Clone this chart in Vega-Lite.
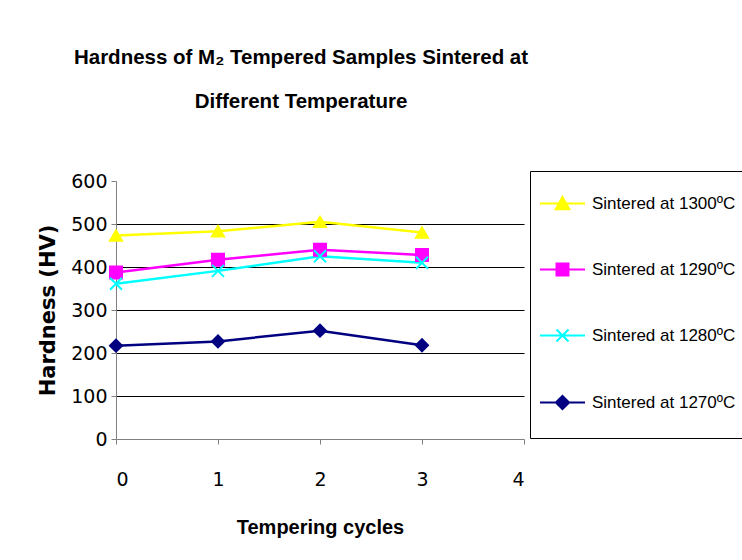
{
  "$schema": "https://vega.github.io/schema/vega-lite/v6.json",
  "width": 408,
  "height": 258,
  "autosize": {"type": "none"},
  "padding": {"left": 116, "top": 181, "right": 218, "bottom": 121},
  "background": "white",
  "config": {"font": "Liberation Sans", "view": {"stroke": null}},
  "title": {
    "text": ["Hardness of M₂ Tempered Samples Sintered at", "Different Temperature"],
    "fontSize": 20.5,
    "fontWeight": "bold",
    "lineHeight": 44,
    "anchor": "middle",
    "dx": -19,
    "offset": 58,
    "color": "black",
    "font": "Liberation Sans"
  },
  "data": {
    "values": [
      {"series": "Sintered at 1300ºC", "cycle": 0, "hardness": 473},
      {"series": "Sintered at 1300ºC", "cycle": 1, "hardness": 483},
      {"series": "Sintered at 1300ºC", "cycle": 2, "hardness": 505},
      {"series": "Sintered at 1300ºC", "cycle": 3, "hardness": 480},
      {"series": "Sintered at 1290ºC", "cycle": 0, "hardness": 387},
      {"series": "Sintered at 1290ºC", "cycle": 1, "hardness": 417},
      {"series": "Sintered at 1290ºC", "cycle": 2, "hardness": 440},
      {"series": "Sintered at 1290ºC", "cycle": 3, "hardness": 428},
      {"series": "Sintered at 1280ºC", "cycle": 0, "hardness": 361},
      {"series": "Sintered at 1280ºC", "cycle": 1, "hardness": 391},
      {"series": "Sintered at 1280ºC", "cycle": 2, "hardness": 425},
      {"series": "Sintered at 1280ºC", "cycle": 3, "hardness": 410},
      {"series": "Sintered at 1270ºC", "cycle": 0, "hardness": 217},
      {"series": "Sintered at 1270ºC", "cycle": 1, "hardness": 227},
      {"series": "Sintered at 1270ºC", "cycle": 2, "hardness": 252},
      {"series": "Sintered at 1270ºC", "cycle": 3, "hardness": 218}
    ]
  },
  "encoding": {
    "x": {
      "field": "cycle",
      "type": "quantitative",
      "scale": {"domain": [0, 4], "nice": false},
      "axis": {
        "title": "Tempering cycles",
        "values": [0, 1, 2, 3, 4],
        "format": "d",
        "grid": false,
        "domainColor": "#808080",
        "tickColor": "#808080",
        "tickSize": 5,
        "labelFont": "DejaVu Sans",
        "labelFontSize": 19,
        "labelColor": "black",
        "labelPadding": 26,
        "titleFont": "Liberation Sans",
        "titleFontSize": 20,
        "titleFontWeight": "bold",
        "titleColor": "black",
        "titlePadding": 28
      }
    },
    "y": {
      "field": "hardness",
      "type": "quantitative",
      "scale": {"domain": [0, 600], "nice": false},
      "axis": {
        "title": "Hardness (HV)",
        "values": [0, 100, 200, 300, 400, 500, 600],
        "grid": true,
        "gridColor": "black",
        "gridOpacity": {"condition": {"test": "datum.value === 600 || datum.value === 0", "value": 0}, "value": 1},
        "domainColor": "#808080",
        "tickColor": "#808080",
        "tickSize": 5,
        "labelFont": "DejaVu Sans",
        "labelFontSize": 19,
        "labelColor": "black",
        "labelPadding": 4,
        "titleFont": "DejaVu Sans",
        "titleFontSize": 21,
        "titleFontWeight": "bold",
        "titleColor": "black",
        "titlePadding": 12
      }
    }
  },
  "resolve": {"scale": {"shape": "independent", "fill": "independent", "stroke": "independent"}},
  "layer": [
    {
      "mark": {"type": "line", "strokeWidth": 2.5},
      "encoding": {
        "color": {
          "field": "series",
          "type": "nominal",
          "scale": {
            "domain": ["Sintered at 1300ºC", "Sintered at 1290ºC", "Sintered at 1280ºC", "Sintered at 1270ºC"],
            "range": ["#FFFF00", "#FF00FF", "#00FFFF", "#000080"]
          },
          "legend": null
        }
      }
    },
    {
      "mark": {"type": "point", "filled": true, "size": 144, "opacity": 1, "strokeWidth": 2},
      "encoding": {
        "shape": {
          "field": "series",
          "type": "nominal",
          "scale": {
            "domain": ["Sintered at 1300ºC", "Sintered at 1290ºC", "Sintered at 1280ºC", "Sintered at 1270ºC"],
            "range": ["triangle-up", "square", "M-1,-1L1,1M1,-1L-1,1", "diamond"]
          },
          "legend": null
        },
        "fill": {
          "field": "series",
          "type": "nominal",
          "scale": {
            "domain": ["Sintered at 1300ºC", "Sintered at 1290ºC", "Sintered at 1280ºC", "Sintered at 1270ºC"],
            "range": ["#FFFF00", "#FF00FF", "#00FFFF", "#000080"]
          },
          "legend": null
        },
        "stroke": {
          "field": "series",
          "type": "nominal",
          "scale": {
            "domain": ["Sintered at 1300ºC", "Sintered at 1290ºC", "Sintered at 1280ºC", "Sintered at 1270ºC"],
            "range": ["#FFFF00", "#FF00FF", "#00FFFF", "#000080"]
          },
          "legend": null
        }
      }
    },
    {
      "mark": {"type": "point", "filled": true, "size": 144, "opacity": 0, "strokeWidth": 2},
      "encoding": {
        "shape": {
          "field": "series",
          "type": "nominal",
          "scale": {
            "domain": ["Sintered at 1300ºC", "Sintered at 1290ºC", "Sintered at 1280ºC", "Sintered at 1270ºC"],
            "range": ["M-3.75,0H3.75M0,-1.1L1.15,0.95H-1.15Z", "M-3.75,0H3.75M-1,-1H1V1H-1Z", "M-3.75,0H3.75M-1,-1L1,1M1,-1L-1,1", "M-3.75,0H3.75M0,-1.1L1.1,0L0,1.1L-1.1,0Z"]
          },
          "legend": {"orient": "none", "legendX": 414, "legendY": -10, "title": null, "strokeColor": "black", "fillColor": "white", "padding": 24, "labelFont": "Liberation Sans", "labelFontSize": 17, "labelColor": "black", "labelLimit": 400, "symbolSize": 144, "rowPadding": 45, "labelOffset": 21, "symbolStrokeWidth": 2, "symbolOpacity": 1}
        },
        "fill": {
          "field": "series",
          "type": "nominal",
          "scale": {
            "domain": ["Sintered at 1300ºC", "Sintered at 1290ºC", "Sintered at 1280ºC", "Sintered at 1270ºC"],
            "range": ["#FFFF00", "#FF00FF", "#00FFFF", "#000080"]
          },
          "legend": {"orient": "none", "legendX": 414, "legendY": -10, "title": null, "strokeColor": "black", "fillColor": "white", "padding": 24, "labelFont": "Liberation Sans", "labelFontSize": 17, "labelColor": "black", "labelLimit": 400, "symbolSize": 144, "rowPadding": 45, "labelOffset": 21, "symbolStrokeWidth": 2, "symbolOpacity": 1}
        },
        "stroke": {
          "field": "series",
          "type": "nominal",
          "scale": {
            "domain": ["Sintered at 1300ºC", "Sintered at 1290ºC", "Sintered at 1280ºC", "Sintered at 1270ºC"],
            "range": ["#FFFF00", "#FF00FF", "#00FFFF", "#000080"]
          },
          "legend": {"orient": "none", "legendX": 414, "legendY": -10, "title": null, "strokeColor": "black", "fillColor": "white", "padding": 24, "labelFont": "Liberation Sans", "labelFontSize": 17, "labelColor": "black", "labelLimit": 400, "symbolSize": 144, "rowPadding": 45, "labelOffset": 21, "symbolStrokeWidth": 2, "symbolOpacity": 1}
        }
      }
    }
  ]
}
